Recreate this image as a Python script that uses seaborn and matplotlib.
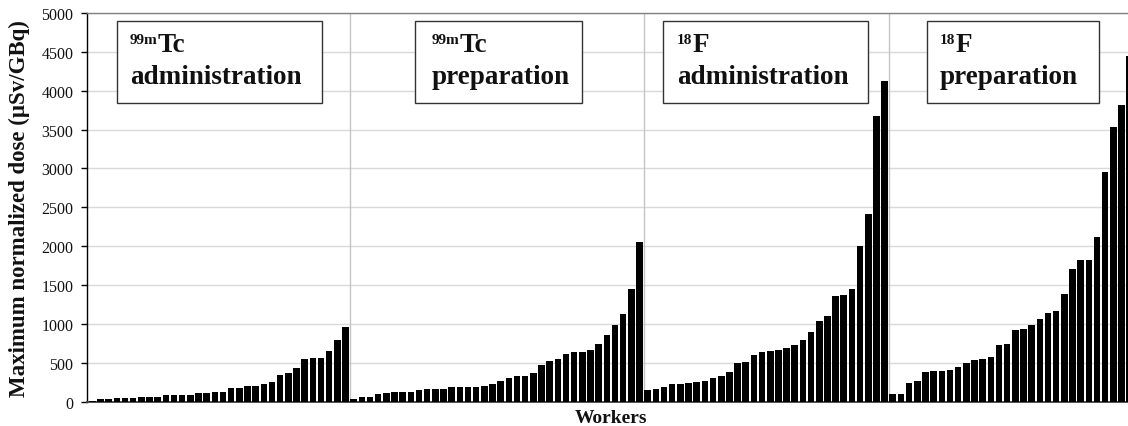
import numpy as np
import pandas as pd
import matplotlib
matplotlib.use('Agg')
import matplotlib.pyplot as plt
import seaborn as sns
from matplotlib.patches import Rectangle

# ---- data ----
tc_admin = [15, 30, 30, 45, 45, 45, 62, 62, 62, 80, 80, 80, 92, 110, 110, 127,
            127, 170, 170, 205, 205, 222, 255, 347, 368, 430, 545, 561, 561, 655,
            790, 955]
tc_prep = [38, 60, 60, 103, 115, 128, 128, 128, 154, 167, 167, 167, 192, 192,
           192, 192, 205, 231, 269, 308, 333, 333, 372, 474, 525, 551, 615, 641,
           641, 666, 743, 858, 986, 1127, 1447, 2050]
f_admin = [146, 159, 185, 224, 224, 237, 249, 262, 301, 327, 378, 495, 507, 598,
           636, 649, 662, 688, 727, 791, 894, 1036, 1101, 1359, 1372, 1449, 2000,
           2420, 3680, 4130]
f_prep = [95, 95, 237, 262, 378, 391, 391, 404, 443, 495, 533, 546, 572, 727,
          740, 920, 933, 985, 1062, 1140, 1165, 1385, 1707, 1823, 1823, 2115,
          2960, 3535, 3815, 4450]

title_sup = ['99m', '99m', '18', '18']
title_main = ['Tc', 'Tc', 'F', 'F']
title_line2 = ['administration', 'preparation', 'administration', 'preparation']
y_ticks = [0, 500, 1000, 1500, 2000, 2500, 3000, 3500, 4000, 4500, 5000]
x_label = 'Workers'
y_label = 'Maximum normalized dose (μSv/GBq)'

# ---- style ----
sns.set_theme(style='white')
plt.rcParams['font.family'] = ['Liberation Serif', 'DejaVu Serif']

W, H = 1128, 427
fig = plt.figure(figsize=(W / 100, H / 100), dpi=100)
L, R, T, B = 87.3, 1128, 14, 402.7
ax = fig.add_axes([L / W, 1 - B / H, (R - L) / W, (B - T) / H])

groups = [tc_admin, tc_prep, f_admin, f_prep]
values = [v for g in groups for v in g]
df = pd.DataFrame({'worker': np.arange(len(values)), 'dose': values})
sns.barplot(data=df, x='worker', y='dose', color='black', saturation=1,
            width=0.8, errorbar=None, linewidth=0, ax=ax, zorder=3)

ax.set_axisbelow(True)
ax.yaxis.grid(True, color='#d9d9d9', lw=1)
ax.xaxis.grid(False)

# group separators
bounds = np.cumsum([len(g) for g in groups])[:-1]
for b in bounds:
    ax.axvline(b - 0.45, color='#c4c4c4', lw=1, zorder=1)

ax.set_xlim(-0.612, 126.8)
ax.set_ylim(0, 5000)
ax.set_yticks(y_ticks)
ax.set_yticklabels([str(t) for t in y_ticks])
ax.set_xticks([])
ax.tick_params(axis='y', which='major', left=True, direction='out', length=4,
               width=1, color='black', labelsize=11.5, pad=6, labelcolor='#111111')

ax.spines['left'].set_color('black')
ax.spines['left'].set_linewidth(1)
ax.spines['bottom'].set_color('#404040')
ax.spines['bottom'].set_linewidth(1.3)
ax.spines['top'].set_color('#808080')
ax.spines['top'].set_linewidth(1)
ax.spines['right'].set_visible(False)

ax.set_xlabel(x_label, fontsize=14, fontweight='bold', color='#111111')
ax.xaxis.set_label_coords((611 - L) / (R - L), (B - 423) / (B - T))
ax.xaxis.label.set_verticalalignment('baseline')
ax.set_ylabel(y_label, fontsize=16.5, fontweight='bold', color='#111111')
ax.yaxis.set_label_coords((19 - L) / (R - L), 0.5)
ax.yaxis.label.set_verticalalignment('center')

# ---- title boxes ----
boxes = [(117.3, 21.7, 322.3, 104.3, 130),
         (414.5, 21.7, 581.5, 104.3, 432),
         (663.3, 21.7, 868.0, 104.3, 676.7),
         (926.7, 21.7, 1099.0, 104.3, 940)]

fig.canvas.draw()
renderer = fig.canvas.get_renderer()
for (x0, y0, x1, y1, tx), sup, main, l2 in zip(boxes, title_sup, title_main, title_line2):
    fig.add_artist(Rectangle((x0 / W, 1 - y1 / H), (x1 - x0) / W, (y1 - y0) / H,
                             transform=fig.transFigure, facecolor='white',
                             edgecolor='#333333', lw=1, zorder=5))
    st = fig.text(tx / W, 1 - 44.5 / H, sup, fontsize=11, fontweight='bold',
                  ha='left', va='baseline', color='#111111', zorder=6)
    bb = st.get_window_extent(renderer)
    fig.text(bb.x1 / W, 1 - 52.5 / H, main, fontsize=19.5, fontweight='bold',
             ha='left', va='baseline', color='#111111', zorder=6)
    fig.text(tx / W, 1 - 83.5 / H, l2, fontsize=19.5, fontweight='bold',
             ha='left', va='baseline', color='#111111', zorder=6)

fig.savefig('out.png', dpi=100)
